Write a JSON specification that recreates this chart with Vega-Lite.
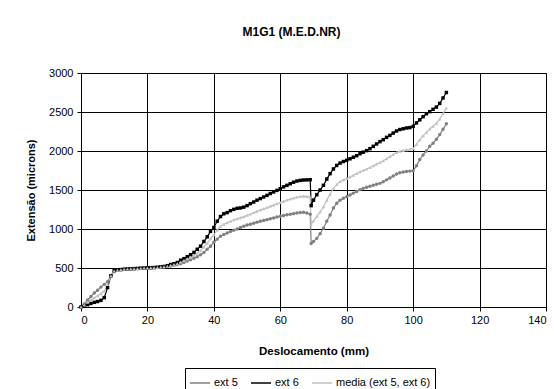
{
"$schema":"https://vega.github.io/schema/vega-lite/v6.json",
"autosize":{"type":"none"},
"width":465,"height":234,
"padding":{"left":81,"top":73,"right":8,"bottom":82},
"background":"white",
"title":{"text":"M1G1 (M.E.D.NR)","font":"Liberation Sans","fontSize":12,"fontWeight":"bold","color":"black","offset":28,"dx":-22,"anchor":"middle"},
"config":{"view":{"stroke":"#808080","strokeWidth":1},"font":"Liberation Sans"},
"data":{"values":[
{"d":0,"s":"ext 5","v":0},{"d":1,"s":"ext 5","v":40},{"d":2,"s":"ext 5","v":90},{"d":3,"s":"ext 5","v":135},{"d":4,"s":"ext 5","v":180},{"d":5,"s":"ext 5","v":215},{"d":6,"s":"ext 5","v":255},{"d":7,"s":"ext 5","v":290},{"d":8,"s":"ext 5","v":325},{"d":9,"s":"ext 5","v":400},{"d":10,"s":"ext 5","v":455},{"d":11,"s":"ext 5","v":470},{"d":12,"s":"ext 5","v":478},{"d":13,"s":"ext 5","v":482},{"d":14,"s":"ext 5","v":485},{"d":15,"s":"ext 5","v":488},{"d":16,"s":"ext 5","v":490},{"d":17,"s":"ext 5","v":492},{"d":18,"s":"ext 5","v":495},{"d":19,"s":"ext 5","v":497},{"d":20,"s":"ext 5","v":498},{"d":21,"s":"ext 5","v":500},{"d":22,"s":"ext 5","v":502},{"d":23,"s":"ext 5","v":505},{"d":24,"s":"ext 5","v":508},{"d":25,"s":"ext 5","v":512},{"d":26,"s":"ext 5","v":518},{"d":27,"s":"ext 5","v":525},{"d":28,"s":"ext 5","v":535},{"d":29,"s":"ext 5","v":545},{"d":30,"s":"ext 5","v":555},{"d":31,"s":"ext 5","v":570},{"d":32,"s":"ext 5","v":590},{"d":33,"s":"ext 5","v":605},{"d":34,"s":"ext 5","v":625},{"d":35,"s":"ext 5","v":645},{"d":36,"s":"ext 5","v":670},{"d":37,"s":"ext 5","v":700},{"d":38,"s":"ext 5","v":740},{"d":39,"s":"ext 5","v":780},{"d":40,"s":"ext 5","v":830},{"d":41,"s":"ext 5","v":870},{"d":42,"s":"ext 5","v":907},{"d":43,"s":"ext 5","v":930},{"d":44,"s":"ext 5","v":950},{"d":45,"s":"ext 5","v":968},{"d":46,"s":"ext 5","v":984},{"d":47,"s":"ext 5","v":1000},{"d":48,"s":"ext 5","v":1020},{"d":49,"s":"ext 5","v":1035},{"d":50,"s":"ext 5","v":1050},{"d":51,"s":"ext 5","v":1061},{"d":52,"s":"ext 5","v":1075},{"d":53,"s":"ext 5","v":1088},{"d":54,"s":"ext 5","v":1100},{"d":55,"s":"ext 5","v":1110},{"d":56,"s":"ext 5","v":1120},{"d":57,"s":"ext 5","v":1132},{"d":58,"s":"ext 5","v":1142},{"d":59,"s":"ext 5","v":1153},{"d":60,"s":"ext 5","v":1163},{"d":61,"s":"ext 5","v":1172},{"d":62,"s":"ext 5","v":1182},{"d":63,"s":"ext 5","v":1190},{"d":64,"s":"ext 5","v":1197},{"d":65,"s":"ext 5","v":1205},{"d":66,"s":"ext 5","v":1211},{"d":67,"s":"ext 5","v":1214},{"d":68,"s":"ext 5","v":1205},{"d":69,"s":"ext 5","v":1189},{"d":69.3,"s":"ext 5","v":815},{"d":70,"s":"ext 5","v":840},{"d":71,"s":"ext 5","v":880},{"d":72,"s":"ext 5","v":940},{"d":73,"s":"ext 5","v":1010},{"d":74,"s":"ext 5","v":1100},{"d":75,"s":"ext 5","v":1180},{"d":76,"s":"ext 5","v":1270},{"d":77,"s":"ext 5","v":1330},{"d":78,"s":"ext 5","v":1370},{"d":79,"s":"ext 5","v":1395},{"d":80,"s":"ext 5","v":1415},{"d":81,"s":"ext 5","v":1435},{"d":82,"s":"ext 5","v":1460},{"d":83,"s":"ext 5","v":1480},{"d":84,"s":"ext 5","v":1505},{"d":85,"s":"ext 5","v":1521},{"d":86,"s":"ext 5","v":1535},{"d":87,"s":"ext 5","v":1548},{"d":88,"s":"ext 5","v":1560},{"d":89,"s":"ext 5","v":1575},{"d":90,"s":"ext 5","v":1585},{"d":91,"s":"ext 5","v":1605},{"d":92,"s":"ext 5","v":1630},{"d":93,"s":"ext 5","v":1655},{"d":94,"s":"ext 5","v":1680},{"d":95,"s":"ext 5","v":1704},{"d":96,"s":"ext 5","v":1720},{"d":97,"s":"ext 5","v":1730},{"d":98,"s":"ext 5","v":1738},{"d":99,"s":"ext 5","v":1742},{"d":100,"s":"ext 5","v":1747},{"d":101,"s":"ext 5","v":1810},{"d":102,"s":"ext 5","v":1891},{"d":103,"s":"ext 5","v":1950},{"d":104,"s":"ext 5","v":2000},{"d":105,"s":"ext 5","v":2060},{"d":106,"s":"ext 5","v":2100},{"d":107,"s":"ext 5","v":2150},{"d":108,"s":"ext 5","v":2210},{"d":109,"s":"ext 5","v":2280},{"d":110,"s":"ext 5","v":2350},
{"d":0,"s":"ext 6","v":0},{"d":1,"s":"ext 6","v":10},{"d":2,"s":"ext 6","v":30},{"d":3,"s":"ext 6","v":45},{"d":4,"s":"ext 6","v":60},{"d":5,"s":"ext 6","v":70},{"d":6,"s":"ext 6","v":85},{"d":7,"s":"ext 6","v":120},{"d":8,"s":"ext 6","v":250},{"d":9,"s":"ext 6","v":400},{"d":10,"s":"ext 6","v":465},{"d":11,"s":"ext 6","v":475},{"d":12,"s":"ext 6","v":480},{"d":13,"s":"ext 6","v":485},{"d":14,"s":"ext 6","v":488},{"d":15,"s":"ext 6","v":490},{"d":16,"s":"ext 6","v":492},{"d":17,"s":"ext 6","v":495},{"d":18,"s":"ext 6","v":498},{"d":19,"s":"ext 6","v":500},{"d":20,"s":"ext 6","v":502},{"d":21,"s":"ext 6","v":504},{"d":22,"s":"ext 6","v":506},{"d":23,"s":"ext 6","v":510},{"d":24,"s":"ext 6","v":515},{"d":25,"s":"ext 6","v":520},{"d":26,"s":"ext 6","v":530},{"d":27,"s":"ext 6","v":545},{"d":28,"s":"ext 6","v":555},{"d":29,"s":"ext 6","v":570},{"d":30,"s":"ext 6","v":600},{"d":31,"s":"ext 6","v":620},{"d":32,"s":"ext 6","v":645},{"d":33,"s":"ext 6","v":670},{"d":34,"s":"ext 6","v":700},{"d":35,"s":"ext 6","v":740},{"d":36,"s":"ext 6","v":780},{"d":37,"s":"ext 6","v":840},{"d":38,"s":"ext 6","v":900},{"d":39,"s":"ext 6","v":970},{"d":40,"s":"ext 6","v":1020},{"d":41,"s":"ext 6","v":1100},{"d":42,"s":"ext 6","v":1160},{"d":43,"s":"ext 6","v":1195},{"d":44,"s":"ext 6","v":1210},{"d":45,"s":"ext 6","v":1235},{"d":46,"s":"ext 6","v":1252},{"d":47,"s":"ext 6","v":1265},{"d":48,"s":"ext 6","v":1270},{"d":49,"s":"ext 6","v":1280},{"d":50,"s":"ext 6","v":1300},{"d":51,"s":"ext 6","v":1325},{"d":52,"s":"ext 6","v":1346},{"d":53,"s":"ext 6","v":1370},{"d":54,"s":"ext 6","v":1390},{"d":55,"s":"ext 6","v":1410},{"d":56,"s":"ext 6","v":1431},{"d":57,"s":"ext 6","v":1455},{"d":58,"s":"ext 6","v":1475},{"d":59,"s":"ext 6","v":1495},{"d":60,"s":"ext 6","v":1517},{"d":61,"s":"ext 6","v":1540},{"d":62,"s":"ext 6","v":1560},{"d":63,"s":"ext 6","v":1580},{"d":64,"s":"ext 6","v":1600},{"d":65,"s":"ext 6","v":1615},{"d":66,"s":"ext 6","v":1623},{"d":67,"s":"ext 6","v":1628},{"d":68,"s":"ext 6","v":1630},{"d":69,"s":"ext 6","v":1632},{"d":69.3,"s":"ext 6","v":1300},{"d":70,"s":"ext 6","v":1370},{"d":71,"s":"ext 6","v":1440},{"d":72,"s":"ext 6","v":1500},{"d":73,"s":"ext 6","v":1560},{"d":74,"s":"ext 6","v":1640},{"d":75,"s":"ext 6","v":1710},{"d":76,"s":"ext 6","v":1770},{"d":77,"s":"ext 6","v":1815},{"d":78,"s":"ext 6","v":1845},{"d":79,"s":"ext 6","v":1865},{"d":80,"s":"ext 6","v":1880},{"d":81,"s":"ext 6","v":1900},{"d":82,"s":"ext 6","v":1920},{"d":83,"s":"ext 6","v":1940},{"d":84,"s":"ext 6","v":1965},{"d":85,"s":"ext 6","v":1985},{"d":86,"s":"ext 6","v":2005},{"d":87,"s":"ext 6","v":2030},{"d":88,"s":"ext 6","v":2060},{"d":89,"s":"ext 6","v":2090},{"d":90,"s":"ext 6","v":2120},{"d":91,"s":"ext 6","v":2145},{"d":92,"s":"ext 6","v":2175},{"d":93,"s":"ext 6","v":2200},{"d":94,"s":"ext 6","v":2230},{"d":95,"s":"ext 6","v":2257},{"d":96,"s":"ext 6","v":2275},{"d":97,"s":"ext 6","v":2285},{"d":98,"s":"ext 6","v":2295},{"d":99,"s":"ext 6","v":2300},{"d":100,"s":"ext 6","v":2316},{"d":101,"s":"ext 6","v":2360},{"d":102,"s":"ext 6","v":2400},{"d":103,"s":"ext 6","v":2440},{"d":104,"s":"ext 6","v":2478},{"d":105,"s":"ext 6","v":2505},{"d":106,"s":"ext 6","v":2535},{"d":107,"s":"ext 6","v":2563},{"d":108,"s":"ext 6","v":2610},{"d":109,"s":"ext 6","v":2680},{"d":110,"s":"ext 6","v":2750},
{"d":0,"s":"media (ext 5, ext 6)","v":0},{"d":1,"s":"media (ext 5, ext 6)","v":25},{"d":2,"s":"media (ext 5, ext 6)","v":60},{"d":3,"s":"media (ext 5, ext 6)","v":90},{"d":4,"s":"media (ext 5, ext 6)","v":120},{"d":5,"s":"media (ext 5, ext 6)","v":143},{"d":6,"s":"media (ext 5, ext 6)","v":170},{"d":7,"s":"media (ext 5, ext 6)","v":205},{"d":8,"s":"media (ext 5, ext 6)","v":288},{"d":9,"s":"media (ext 5, ext 6)","v":400},{"d":10,"s":"media (ext 5, ext 6)","v":460},{"d":11,"s":"media (ext 5, ext 6)","v":472},{"d":12,"s":"media (ext 5, ext 6)","v":479},{"d":13,"s":"media (ext 5, ext 6)","v":484},{"d":14,"s":"media (ext 5, ext 6)","v":487},{"d":15,"s":"media (ext 5, ext 6)","v":489},{"d":16,"s":"media (ext 5, ext 6)","v":491},{"d":17,"s":"media (ext 5, ext 6)","v":494},{"d":18,"s":"media (ext 5, ext 6)","v":497},{"d":19,"s":"media (ext 5, ext 6)","v":499},{"d":20,"s":"media (ext 5, ext 6)","v":500},{"d":21,"s":"media (ext 5, ext 6)","v":502},{"d":22,"s":"media (ext 5, ext 6)","v":504},{"d":23,"s":"media (ext 5, ext 6)","v":508},{"d":24,"s":"media (ext 5, ext 6)","v":512},{"d":25,"s":"media (ext 5, ext 6)","v":516},{"d":26,"s":"media (ext 5, ext 6)","v":524},{"d":27,"s":"media (ext 5, ext 6)","v":535},{"d":28,"s":"media (ext 5, ext 6)","v":545},{"d":29,"s":"media (ext 5, ext 6)","v":558},{"d":30,"s":"media (ext 5, ext 6)","v":578},{"d":31,"s":"media (ext 5, ext 6)","v":595},{"d":32,"s":"media (ext 5, ext 6)","v":618},{"d":33,"s":"media (ext 5, ext 6)","v":638},{"d":34,"s":"media (ext 5, ext 6)","v":662},{"d":35,"s":"media (ext 5, ext 6)","v":692},{"d":36,"s":"media (ext 5, ext 6)","v":725},{"d":37,"s":"media (ext 5, ext 6)","v":770},{"d":38,"s":"media (ext 5, ext 6)","v":820},{"d":39,"s":"media (ext 5, ext 6)","v":875},{"d":40,"s":"media (ext 5, ext 6)","v":925},{"d":41,"s":"media (ext 5, ext 6)","v":985},{"d":42,"s":"media (ext 5, ext 6)","v":1035},{"d":43,"s":"media (ext 5, ext 6)","v":1062},{"d":44,"s":"media (ext 5, ext 6)","v":1080},{"d":45,"s":"media (ext 5, ext 6)","v":1100},{"d":46,"s":"media (ext 5, ext 6)","v":1118},{"d":47,"s":"media (ext 5, ext 6)","v":1132},{"d":48,"s":"media (ext 5, ext 6)","v":1145},{"d":49,"s":"media (ext 5, ext 6)","v":1158},{"d":50,"s":"media (ext 5, ext 6)","v":1175},{"d":51,"s":"media (ext 5, ext 6)","v":1193},{"d":52,"s":"media (ext 5, ext 6)","v":1210},{"d":53,"s":"media (ext 5, ext 6)","v":1229},{"d":54,"s":"media (ext 5, ext 6)","v":1245},{"d":55,"s":"media (ext 5, ext 6)","v":1260},{"d":56,"s":"media (ext 5, ext 6)","v":1276},{"d":57,"s":"media (ext 5, ext 6)","v":1293},{"d":58,"s":"media (ext 5, ext 6)","v":1308},{"d":59,"s":"media (ext 5, ext 6)","v":1324},{"d":60,"s":"media (ext 5, ext 6)","v":1340},{"d":61,"s":"media (ext 5, ext 6)","v":1356},{"d":62,"s":"media (ext 5, ext 6)","v":1371},{"d":63,"s":"media (ext 5, ext 6)","v":1385},{"d":64,"s":"media (ext 5, ext 6)","v":1398},{"d":65,"s":"media (ext 5, ext 6)","v":1410},{"d":66,"s":"media (ext 5, ext 6)","v":1417},{"d":67,"s":"media (ext 5, ext 6)","v":1421},{"d":68,"s":"media (ext 5, ext 6)","v":1418},{"d":69,"s":"media (ext 5, ext 6)","v":1410},{"d":69.3,"s":"media (ext 5, ext 6)","v":1058},{"d":70,"s":"media (ext 5, ext 6)","v":1105},{"d":71,"s":"media (ext 5, ext 6)","v":1160},{"d":72,"s":"media (ext 5, ext 6)","v":1220},{"d":73,"s":"media (ext 5, ext 6)","v":1285},{"d":74,"s":"media (ext 5, ext 6)","v":1370},{"d":75,"s":"media (ext 5, ext 6)","v":1445},{"d":76,"s":"media (ext 5, ext 6)","v":1520},{"d":77,"s":"media (ext 5, ext 6)","v":1572},{"d":78,"s":"media (ext 5, ext 6)","v":1608},{"d":79,"s":"media (ext 5, ext 6)","v":1630},{"d":80,"s":"media (ext 5, ext 6)","v":1648},{"d":81,"s":"media (ext 5, ext 6)","v":1668},{"d":82,"s":"media (ext 5, ext 6)","v":1690},{"d":83,"s":"media (ext 5, ext 6)","v":1710},{"d":84,"s":"media (ext 5, ext 6)","v":1735},{"d":85,"s":"media (ext 5, ext 6)","v":1753},{"d":86,"s":"media (ext 5, ext 6)","v":1770},{"d":87,"s":"media (ext 5, ext 6)","v":1789},{"d":88,"s":"media (ext 5, ext 6)","v":1810},{"d":89,"s":"media (ext 5, ext 6)","v":1832},{"d":90,"s":"media (ext 5, ext 6)","v":1852},{"d":91,"s":"media (ext 5, ext 6)","v":1875},{"d":92,"s":"media (ext 5, ext 6)","v":1902},{"d":93,"s":"media (ext 5, ext 6)","v":1928},{"d":94,"s":"media (ext 5, ext 6)","v":1955},{"d":95,"s":"media (ext 5, ext 6)","v":1980},{"d":96,"s":"media (ext 5, ext 6)","v":1998},{"d":97,"s":"media (ext 5, ext 6)","v":2008},{"d":98,"s":"media (ext 5, ext 6)","v":2016},{"d":99,"s":"media (ext 5, ext 6)","v":2021},{"d":100,"s":"media (ext 5, ext 6)","v":2031},{"d":101,"s":"media (ext 5, ext 6)","v":2085},{"d":102,"s":"media (ext 5, ext 6)","v":2145},{"d":103,"s":"media (ext 5, ext 6)","v":2195},{"d":104,"s":"media (ext 5, ext 6)","v":2239},{"d":105,"s":"media (ext 5, ext 6)","v":2282},{"d":106,"s":"media (ext 5, ext 6)","v":2318},{"d":107,"s":"media (ext 5, ext 6)","v":2356},{"d":108,"s":"media (ext 5, ext 6)","v":2410},{"d":109,"s":"media (ext 5, ext 6)","v":2480},{"d":110,"s":"media (ext 5, ext 6)","v":2550}
]},
"encoding":{
"x":{"field":"d","type":"quantitative","scale":{"domain":[0,140],"nice":false},
"axis":{"title":"Deslocamento  (mm)","values":[0,20,40,60,80,100,120,140],"grid":true,"gridColor":"black","gridOpacity":1,"gridWidth":1,"domainColor":"black","tickColor":"black","tickSize":4,"labelFont":"Liberation Sans","labelFontSize":11,"labelColor":"black","labelPadding":3,"titleFont":"Liberation Sans","titleFontSize":11.5,"titleFontWeight":"bold","titleColor":"black","titlePadding":20}},
"y":{"field":"v","type":"quantitative","scale":{"domain":[0,3000],"nice":false},
"axis":{"title":"Extensão (microns)","format":"d","values":[0,500,1000,1500,2000,2500,3000],"grid":true,"gridColor":"black","gridOpacity":1,"gridWidth":1,"domainColor":"black","tickColor":"black","tickSize":4,"labelFont":"Liberation Sans","labelFontSize":11,"labelColor":"black","labelPadding":4,"titleFont":"Liberation Sans","titleFontSize":11,"titleFontWeight":"bold","titleColor":"black","titlePadding":12}}
},
"layer":[
{"mark":{"type":"line","strokeWidth":1.2},
 "encoding":{"color":{"field":"s","type":"nominal","title":null,
 "scale":{"domain":["ext 5","ext 6","media (ext 5, ext 6)"],"range":["#808080","#000000","#C0C0C0"]},
 "legend":{"orient":"none","legendX":104,"legendY":295,"direction":"horizontal","symbolType":"stroke","symbolSize":400,"symbolStrokeWidth":1.5,"labelFont":"Liberation Sans","labelFontSize":11,"labelColor":"black","strokeColor":"black","padding":4,"columnPadding":10,"labelOffset":3}}}},
{"transform":[{"filter":"datum.s === 'ext 5'"}],"mark":{"type":"point","shape":"circle","filled":true,"size":12,"opacity":1,"color":"#808080"}},
{"transform":[{"filter":"datum.s === 'ext 6'"}],"mark":{"type":"point","shape":"square","filled":true,"size":12,"opacity":1,"color":"#000000"}},
{"transform":[{"filter":"datum.s === 'media (ext 5, ext 6)'"}],"mark":{"type":"point","shape":"triangle-up","filled":true,"size":12,"opacity":1,"color":"#C0C0C0"}}
]
}
